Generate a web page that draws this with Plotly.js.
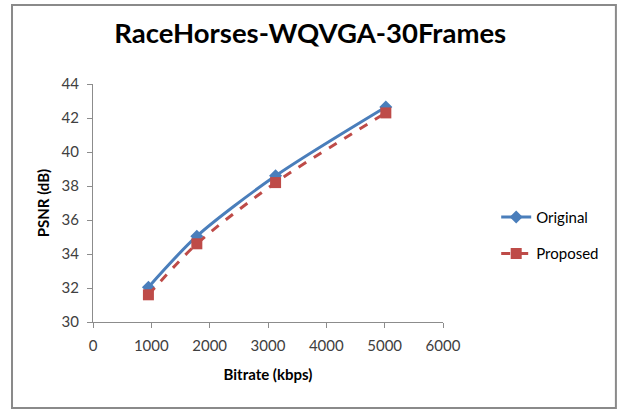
<!DOCTYPE html>
<html>
<head>
<meta charset="utf-8">
<script src="https://cdn.plot.ly/plotly-3.0.1.min.js"></script>
<style>html,body{margin:0;padding:0;background:#fff;}#chart{width:618px;height:410px;}</style>
</head>
<body>
<div id="chart"></div>
<script>
const bitrate = [950, 1780, 3130, 5020];
const psnrOriginal = [32.05, 35.05, 38.6, 42.65];
const psnrProposed = [31.6, 34.6, 38.2, 42.3];
const seriesNames = ["Original", "Proposed"];
const xTicks = [0, 1000, 2000, 3000, 4000, 5000, 6000];
const yTicks = [30, 32, 34, 36, 38, 40, 42, 44];

const traces = [
  {
    x: bitrate, y: psnrOriginal, name: seriesNames[0], type: 'scatter', mode: 'lines+markers',
    line: {color: '#4A7EBB', width: 3, shape: 'spline', smoothing: 0.8},
    marker: {symbol: 'diamond', size: 10, color: '#4A7EBB'},
    legendgroup: 'a'
  },
  {
    x: bitrate, y: psnrProposed, name: seriesNames[1], type: 'scatter', mode: 'lines+markers',
    line: {color: '#BE4B48', width: 3, dash: 'dash', shape: 'spline', smoothing: 0.8},
    marker: {symbol: 'square', size: 11, color: '#BE4B48'},
    legendgroup: 'b'
  }
];

const layout = {
  width: 618, height: 410,
  margin: {l: 93, r: 175, t: 84, b: 88},
  paper_bgcolor: '#fff', plot_bgcolor: '#fff',
  font: {family: 'Lato, "Open Sans", sans-serif', color: '#404040', size: 15},
  title: {text: '<b>RaceHorses-WQVGA-30Frames</b>', x: 0.502, xref: 'container', xanchor: 'center',
          y: 0.918, yref: 'container', yanchor: 'middle',
          font: {size: 27.5, color: '#000', family: 'Lato, "Open Sans", sans-serif'}},
  xaxis: {
    range: [0, 6000], tickvals: xTicks, ticktext: xTicks.map(String),
    showgrid: false, zeroline: false, showline: true, linecolor: '#8c8c8c', linewidth: 1,
    ticks: 'outside', ticklen: 5, tickcolor: '#8c8c8c', ticklabelstandoff: 5,
    tickfont: {size: 15, color: '#404040'},
    title: {text: '<b>Bitrate (kbps)</b>', font: {size: 15, color: '#000'}, standoff: 16}
  },
  yaxis: {
    range: [30, 44], tickvals: yTicks, ticktext: yTicks.map(String),
    showgrid: false, zeroline: false, showline: true, linecolor: '#8c8c8c', linewidth: 1,
    ticks: 'outside', ticklen: 5, tickcolor: '#8c8c8c', ticklabelstandoff: 5,
    tickfont: {size: 15, color: '#404040'},
    title: {text: '<b>PSNR (dB)</b>', font: {size: 15, color: '#000'}, standoff: 8}
  },
  showlegend: true,
  legend: {x: 1.152, xanchor: 'left', y: 0.365, yanchor: 'middle', traceorder: 'grouped', tracegroupgap: 14,
           font: {size: 15, color: '#000'}, bgcolor: 'rgba(0,0,0,0)'},
  shapes: [{type: 'rect', xref: 'paper', yref: 'paper', x0: -0.2314, x1: 1.494, y0: -0.361, y1: 1.332,
            line: {color: '#8a8a8a', width: 2}, fillcolor: 'rgba(0,0,0,0)', layer: 'below'}]
};

Plotly.newPlot('chart', traces, layout, {displayModeBar: false, staticPlot: true});
</script>
</body>
</html>
